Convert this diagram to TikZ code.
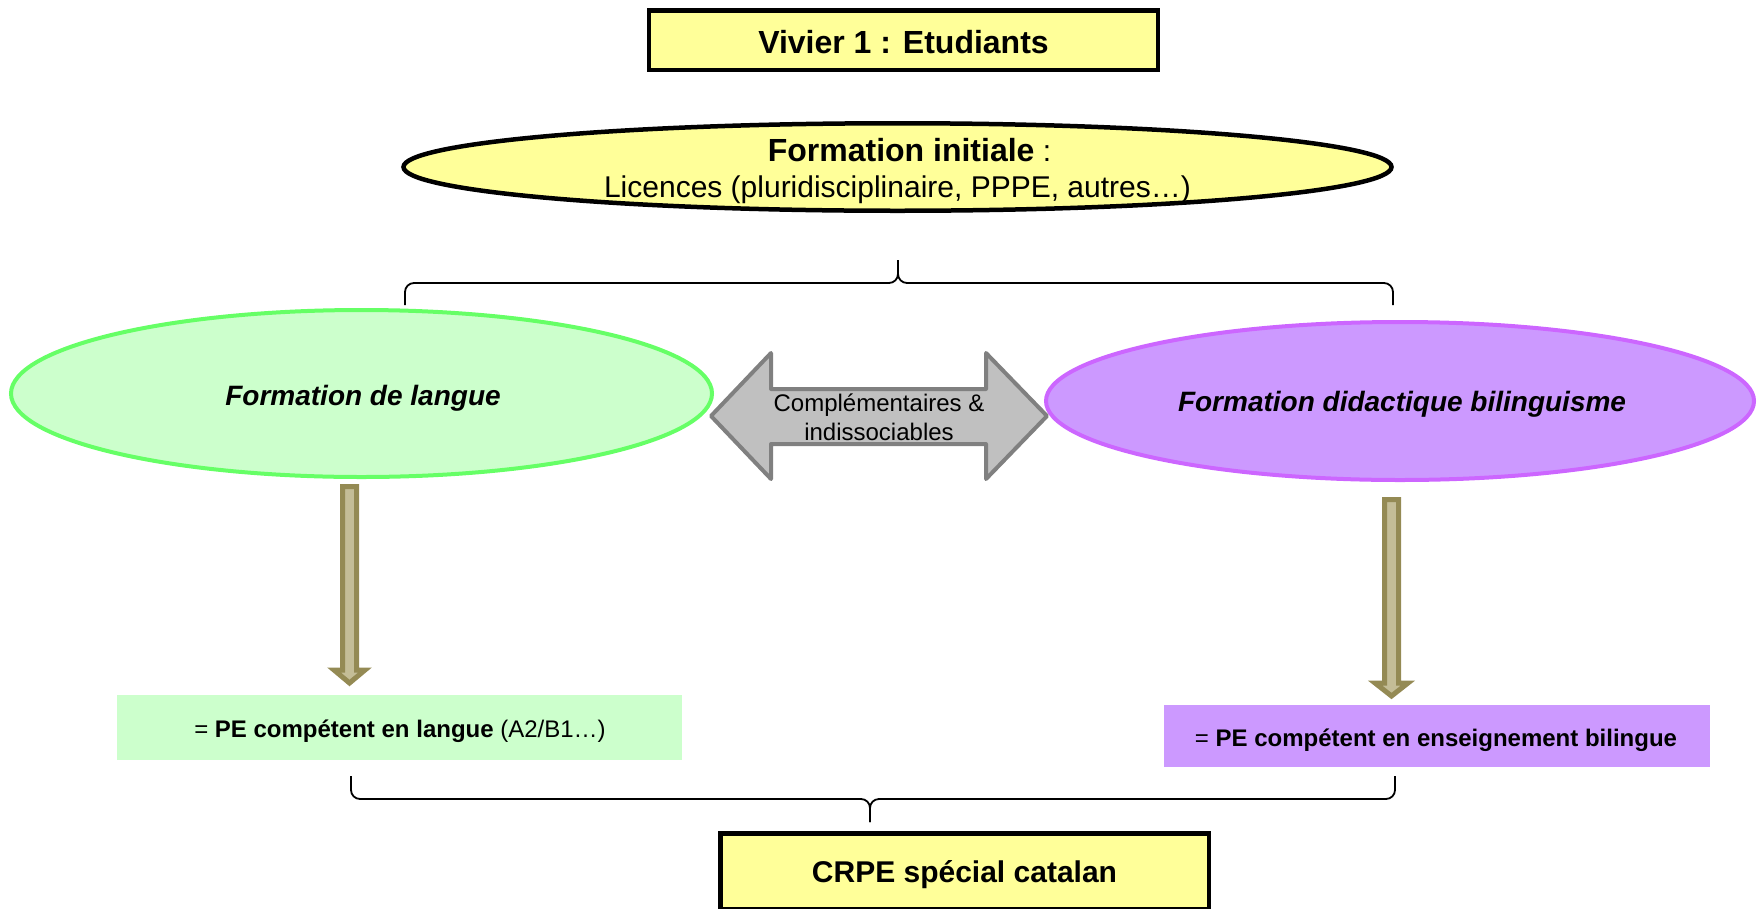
\documentclass[tikz,border=0pt]{standalone}
\usepackage{fontspec}
\setmainfont{Liberation Sans}
\usetikzlibrary{shapes.geometric}
\definecolor{ylw}{HTML}{FFFF99}
\definecolor{grnfill}{HTML}{CCFFCC}
\definecolor{grnline}{HTML}{66FF66}
\definecolor{purfill}{HTML}{CC99FF}
\definecolor{purline}{HTML}{CC66FF}
\definecolor{grayfill}{HTML}{C0C0C0}
\definecolor{grayline}{HTML}{808080}
\definecolor{olivedark}{HTML}{948A54}
\definecolor{olivelight}{HTML}{C4BD97}
\begin{document}
\begin{tikzpicture}[x=1pt,y=-1pt,
  ybox/.style={draw=black, line width=4.5pt, fill=ylw, inner sep=0pt},
  ell/.style={ellipse, line width=4pt, inner sep=0pt},
  txt/.style={inner sep=0pt, align=center},
  brace/.style={draw=black, line width=1.8pt, rounded corners=9pt},
  blockarrow/.style={draw=olivedark, fill=olivelight, line width=5pt},
  dblarrow/.style={draw=grayline, fill=grayfill, line width=4pt, line join=round},
  resbox/.style={inner sep=0pt, font=\fontsize{24}{28}\selectfont}
]
\useasboundingbox (0,0) rectangle (1758,908);

% top box
\node[ybox, minimum width=509pt, minimum height=59.5pt] (viv) at (903.5,40) {};
\node[txt, font=\fontsize{32}{38}\selectfont\bfseries] (vivtxt) at (903.5,42) {Vivier 1 : Etudiants};

% formation initiale
\node[ell, draw=black, line width=4.5pt, fill=ylw, minimum width=988pt, minimum height=87.5pt] (fi) at (897.5,167) {};
\node[txt, font=\fontsize{30}{36}\selectfont] (fitxt) at (897.5,171)
  {\hspace*{24pt}{\fontsize{32}{36}\selectfont\textbf{Formation initiale}} :\\Licences (pluridisciplinaire, PPPE, autres…)};

% top brace
\coordinate (tbl) at (405,305);
\coordinate (tbr) at (1393,305);
\coordinate (tbm) at (898,283);
\coordinate (tbt) at (898,260);
\draw[brace] (tbl) -- (tbl |- tbm) -- (tbm) -- (tbt);
\draw[brace] (tbr) -- (tbr |- tbm) -- (tbm) -- (tbt);

% formation ellipses
\node[ell, draw=grnline, fill=grnfill, minimum width=701pt, minimum height=167pt] (fl) at (361.5,393.5) {};
\node[txt, font=\fontsize{28}{33}\selectfont\bfseries\itshape] (fltxt) at (363,398) {Formation de langue};
\node[ell, draw=purline, fill=purfill, minimum width=708pt, minimum height=158pt] (fd) at (1400,401) {};
\node[txt, font=\fontsize{28}{33}\selectfont\bfseries\itshape] (fdtxt) at (1402,404) {Formation didactique bilinguisme};

% double arrow
\draw[dblarrow] (711,416) -- (771,353) -- (771,389) -- (986,389) -- (986,353) -- (1047,416)
  -- (986,479) -- (986,444) -- (771,444) -- (771,479) -- cycle;
\node[txt, font=\fontsize{24}{29}\selectfont] (comp) at (879,417) {Complémentaires \&\\indissociables};

% down block arrows
\draw[blockarrow] (342.5,486.5) -- (356.5,486.5) -- (356.5,670) -- (365,670) -- (349.5,683)
  -- (334,670) -- (342.5,670) -- cycle;
\draw[blockarrow] (1384.5,499.5) -- (1398.5,499.5) -- (1398.5,683) -- (1408,683) -- (1391.5,696)
  -- (1375,683) -- (1384.5,683) -- cycle;

% result boxes
\node[resbox, fill=grnfill, minimum width=565pt, minimum height=65pt] (pl) at (399.5,727.5) {};
\node[resbox] (pltxt) at (400,731) {= \textbf{PE compétent en langue} (A2/B1…)};
\node[resbox, fill=purfill, minimum width=546pt, minimum height=62pt] (pd) at (1437,736) {};
\node[resbox] (pdtxt) at (1436,740) {= \textbf{PE compétent en enseignement bilingue}};

% bottom brace
\coordinate (bbl) at (351,776);
\coordinate (bbr) at (1395,776);
\coordinate (bbm) at (870,799);
\coordinate (bbt) at (870,822);
\draw[brace] (bbl) -- (bbl |- bbm) -- (bbm) -- (bbt);
\draw[brace] (bbr) -- (bbr |- bbm) -- (bbm) -- (bbt);

% bottom box
\node[ybox, minimum width=488.5pt, minimum height=75.5pt] (crpe) at (964.5,871) {};
\node[txt, font=\fontsize{30}{36}\selectfont\bfseries] (crpetxt) at (964.5,875) {CRPE spécial catalan};
\end{tikzpicture}
\end{document}
